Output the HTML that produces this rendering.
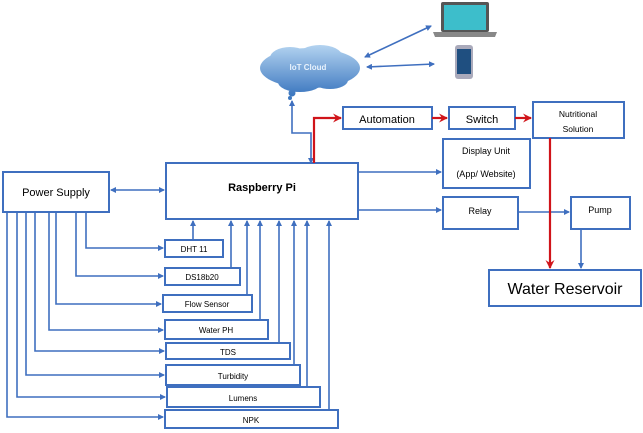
<!DOCTYPE html>
<html><head><meta charset="utf-8"><style>
body{margin:0;background:#fff;}
svg{display:block;font-family:"Liberation Sans",sans-serif;}
</style></head><body>
<svg width="643" height="433" viewBox="0 0 643 433" xmlns="http://www.w3.org/2000/svg">
<defs>
<marker id="b" markerWidth="6" markerHeight="6" refX="5" refY="3" orient="auto-start-reverse" markerUnits="userSpaceOnUse"><path d="M0,0 L6,3 L0,6 z" fill="#3f6fbf"/></marker>
<marker id="r" markerWidth="9" markerHeight="9" refX="8" refY="4.5" orient="auto" markerUnits="userSpaceOnUse"><path d="M0,0 L9,4.5 L0,9 L3,4.5 z" fill="#d0141a"/></marker>
<linearGradient id="cg" gradientUnits="userSpaceOnUse" x1="0" y1="45" x2="0" y2="95"><stop offset="0" stop-color="#b3d3f0"/><stop offset="1" stop-color="#3d78c0"/></linearGradient>
</defs>
<g fill="none" stroke="#3f6fbf" stroke-width="2">
<rect x="3" y="172" width="106" height="40"/>
<rect x="166" y="163" width="192" height="56"/>
<rect x="165" y="240" width="58" height="17"/>
<rect x="165" y="268" width="75" height="17"/>
<rect x="163" y="295" width="89" height="17"/>
<rect x="165" y="320" width="103" height="19"/>
<rect x="166" y="343" width="124" height="16"/>
<rect x="166" y="365" width="134" height="20"/>
<rect x="167" y="387" width="153" height="20"/>
<rect x="165" y="410" width="173" height="18"/>
<rect x="343" y="107" width="89" height="22"/>
<rect x="449" y="107" width="66" height="22"/>
<rect x="533" y="102" width="91" height="36"/>
<rect x="443" y="139" width="87" height="49"/>
<rect x="443" y="197" width="75" height="32"/>
<rect x="571" y="197" width="59" height="32"/>
<rect x="489" y="270" width="152" height="36"/>
</g>
<g fill="none" stroke="#3f6fbf" stroke-width="1.6">
<line x1="111" y1="190" x2="164" y2="190" marker-start="url(#b)" marker-end="url(#b)"/>
<polyline points="86,212 86,248 163,248" marker-end="url(#b)"/>
<polyline points="76,212 76,276 163,276" marker-end="url(#b)"/>
<polyline points="56,212 56,304 161,304" marker-end="url(#b)"/>
<polyline points="49,212 49,330 163,330" marker-end="url(#b)"/>
<polyline points="35,212 35,351 164,351" marker-end="url(#b)"/>
<polyline points="26,212 26,375 164,375" marker-end="url(#b)"/>
<polyline points="17,212 17,397 165,397" marker-end="url(#b)"/>
<polyline points="7,212 7,417 163,417" marker-end="url(#b)"/>
<line x1="193" y1="240" x2="193" y2="221" marker-end="url(#b)"/>
<line x1="231" y1="268" x2="231" y2="221" marker-end="url(#b)"/>
<line x1="247" y1="295" x2="247" y2="221" marker-end="url(#b)"/>
<line x1="260" y1="320" x2="260" y2="221" marker-end="url(#b)"/>
<line x1="279" y1="343" x2="279" y2="221" marker-end="url(#b)"/>
<line x1="294" y1="365" x2="294" y2="221" marker-end="url(#b)"/>
<line x1="307" y1="387" x2="307" y2="221" marker-end="url(#b)"/>
<line x1="329" y1="410" x2="329" y2="221" marker-end="url(#b)"/>
<polyline points="311,163 311,133 292,133 292,101" marker-end="url(#b)" marker-start="url(#b)"/>
<line x1="358" y1="172" x2="441" y2="172" marker-end="url(#b)"/>
<line x1="358" y1="210" x2="441" y2="210" marker-end="url(#b)"/>
<line x1="518" y1="212" x2="569" y2="212" marker-end="url(#b)"/>
<line x1="581" y1="229" x2="581" y2="268" marker-end="url(#b)"/>
<line x1="365" y1="57" x2="431" y2="26" marker-start="url(#b)" marker-end="url(#b)"/>
<line x1="367" y1="67" x2="434" y2="64" marker-start="url(#b)" marker-end="url(#b)"/>
</g>
<g fill="none" stroke="#d0141a" stroke-width="2.2">
<polyline points="314,163 314,118 341,118" marker-end="url(#r)"/>
<line x1="432" y1="118" x2="447" y2="118" marker-end="url(#r)"/>
<line x1="515" y1="118" x2="531" y2="118" marker-end="url(#r)"/>
<line x1="550" y1="138" x2="550" y2="268" marker-end="url(#r)"/>
</g>
<!-- cloud -->
<g fill="url(#cg)">
<ellipse cx="310" cy="68" rx="50" ry="20"/>
<ellipse cx="290" cy="58" rx="20" ry="11"/><ellipse cx="320" cy="56" rx="22" ry="11"/>
<ellipse cx="300" cy="82" rx="22" ry="10"/><ellipse cx="330" cy="80" rx="18" ry="9"/>
<circle cx="292" cy="93" r="3.5"/><circle cx="290" cy="98" r="2"/>
</g>
<text x="308" y="70" font-size="8" font-weight="bold" fill="#e8f2fc" text-anchor="middle">IoT Cloud</text>
<!-- laptop -->
<rect x="441" y="2" width="48" height="30" rx="2" fill="#555"/>
<rect x="444" y="5" width="42" height="25" fill="#3dbecb"/>
<path d="M433,32 L497,32 L495,37 L435,37 z" fill="#888"/>
<!-- phone -->
<rect x="455" y="45" width="18" height="34" rx="3" fill="#aab"/>
<rect x="457" y="49" width="14" height="25" fill="#1f4f80"/>
<g fill="#000" text-anchor="middle">
<text x="56" y="196" font-size="11">Power Supply</text>
<text x="262" y="191" font-size="11" font-weight="bold">Raspberry Pi</text>
<text x="194" y="252" font-size="8">DHT 11</text>
<text x="202" y="280" font-size="8">DS18b20</text>
<text x="207" y="307" font-size="8">Flow Sensor</text>
<text x="216" y="333" font-size="8">Water PH</text>
<text x="228" y="355" font-size="8">TDS</text>
<text x="233" y="379" font-size="8">Turbidity</text>
<text x="243" y="401" font-size="8">Lumens</text>
<text x="251" y="423" font-size="8">NPK</text>
<text x="387" y="123" font-size="11">Automation</text>
<text x="482" y="123" font-size="11">Switch</text>
<text x="578" y="117" font-size="8.5">Nutritional</text>
<text x="578" y="132" font-size="8.5">Solution</text>
<text x="486" y="154" font-size="9">Display Unit</text>
<text x="486" y="177" font-size="9">(App/ Website)</text>
<text x="480" y="214" font-size="9">Relay</text>
<text x="600" y="213" font-size="9">Pump</text>
<text x="565" y="294" font-size="16">Water Reservoir</text>
</g>
</svg>
</body></html>
